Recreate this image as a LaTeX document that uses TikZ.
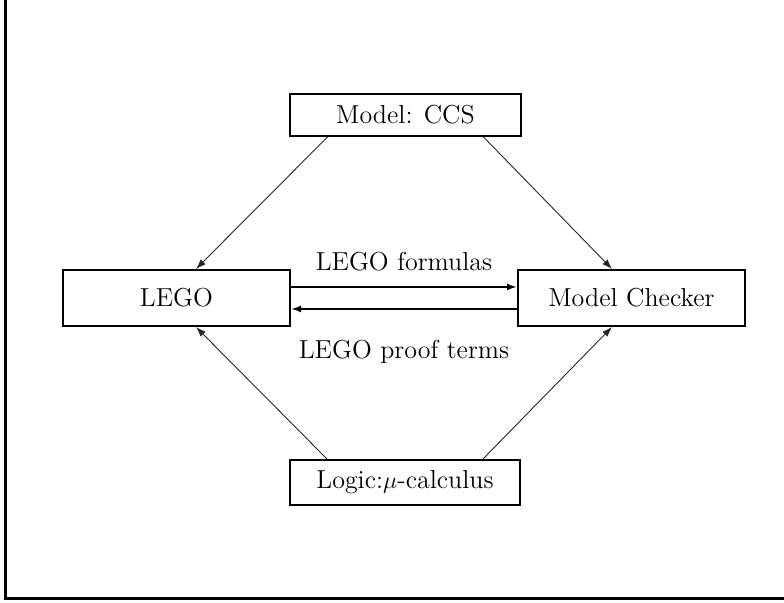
\documentclass[tikz,border=0pt]{standalone}
\usetikzlibrary{arrows.meta,positioning}

\begin{document}
\begin{tikzpicture}[x=0.5pt, y=-0.5pt,
  font=\fontsize{13}{15}\selectfont,
  box/.style={draw, line width=1pt, align=center, inner sep=0pt},
  ar/.style={-{Latex[length=5pt,width=3.5pt]}, line width=0.45pt, black!85},
  hr/.style={-{Latex[length=5pt,width=3.5pt]}, line width=1pt}]
\useasboundingbox (0,0) rectangle (784,603);
% frame
\draw[line width=1.3pt] (5.5,0) -- (5.5,598.5) -- (784,598.5);
% boxes
\node[box, minimum width=115.5pt, minimum height=21pt] (ccs) at (405.5,115) {Model: CCS};
\node[box, minimum width=113.5pt, minimum height=28pt] (lego) at (176.5,298) {LEGO};
\node[box, minimum width=113.5pt, minimum height=28pt] (mc) at (631.5,298) {Model Checker};
\node[box, minimum width=115pt, minimum height=22.5pt] (logic) at (405,482.5) {Logic:$\mu$-calculus};
% diagonals
\draw[ar] ([xshift=-39pt]ccs.south) -- ([xshift=9.75pt]lego.north);
\draw[ar] ([xshift=39pt]ccs.south) -- ([xshift=-9.75pt]mc.north);
\draw[ar] ([xshift=-39pt]logic.north) -- ([xshift=9.75pt]lego.south);
\draw[ar] ([xshift=39pt]logic.north) -- ([xshift=-9.75pt]mc.south);
% LEGO <-> checker
\draw[hr] ([yshift=5.5pt]lego.east) -- node[above=4pt] (fml) {LEGO formulas} ([yshift=5.5pt]mc.west);
\draw[hr] ([yshift=-5.5pt]mc.west) -- node[below=12pt] (prf) {LEGO proof terms} ([yshift=-5.5pt]lego.east);
\end{tikzpicture}
\end{document}
